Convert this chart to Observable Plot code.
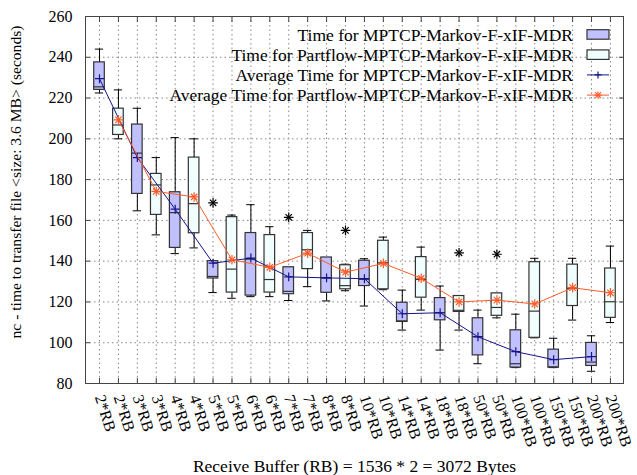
<!DOCTYPE html>
<html><head><meta charset="utf-8">
<script src="https://cdn.jsdelivr.net/npm/d3@7"></script>
<script src="https://cdn.jsdelivr.net/npm/@observablehq/plot@0.6"></script>
<style>body{margin:0;background:#fff} #chart{width:637px;height:475px} #chart svg, #chart svg text{font-family:"Liberation Serif","DejaVu Serif",serif}</style>
</head><body><div id="chart"></div>
<script>
// Receive buffer categories (each has an MPTCP box then a Partflow box)
const buffers = ["2*RB","3*RB","4*RB","5*RB","6*RB","7*RB","8*RB","10*RB","14*RB","18*RB","50*RB","100*RB","150*RB","200*RB"];

// MPTCP-Markov-F-xIF-MDR box statistics (seconds)
const mptcpLow    = [222.5, 164.7, 143.7, 124.6, 122.6, 120.7, 120.5, 118.0, 106.2,  96.4,  89.7,  87.8,  87.8,  86.0];
const mptcpQ1     = [224.0, 173.0, 146.5, 131.5, 123.1, 123.8, 124.5, 127.8, 110.2, 111.0,  93.8,  87.8,  87.8,  88.6];
const mptcpMedian = [225.5, 193.0, 163.8, 132.5, 141.0, 125.2, 131.8, 131.1, 110.7, 114.7, 103.0,  89.7,  88.1,  90.5];
const mptcpQ3     = [237.5, 207.0, 173.8, 140.0, 153.8, 137.0, 141.8, 140.2, 119.6, 121.9, 112.0, 106.1,  96.6,  99.9];
const mptcpHigh   = [244.0, 215.0, 200.6, 140.0, 167.7, 137.0, 141.8, 141.2, 125.8, 127.8, 116.0, 114.0, 102.2, 103.4];
const mptcpMean   = [229.5, 190.8, 165.5, 139.0, 141.5, 132.3, 131.8, 131.4, 114.2, 114.7, 102.9,  95.6,  91.7,  93.2];

// Partflow-MPTCP-Markov-F-xIF-MDR box statistics (seconds)
const partLow     = [200.0, 152.9, 146.5, 121.8, 122.6, 127.5, 125.5, 126.0, 116.0, 106.2, 112.2, 102.4, 111.1, 109.9];
const partQ1      = [201.9, 162.7, 153.7, 124.6, 124.6, 136.1, 126.2, 126.2, 122.1, 115.1, 113.2, 102.4, 118.0, 112.2];
const partMedian  = [206.8, 177.4, 168.2, 136.1, 131.0, 145.6, 128.0, 139.2, 131.1, 115.9, 117.3, 115.5, 126.7, 120.1];
const partQ3      = [214.8, 182.8, 190.8, 161.6, 152.8, 153.8, 138.0, 150.0, 142.0, 122.9, 124.2, 139.5, 138.3, 136.4];
const partHigh    = [224.0, 190.8, 200.0, 162.6, 156.9, 155.1, 138.5, 151.8, 146.9, 122.9, 124.2, 141.4, 141.4, 147.4];
const partMean    = [209.3, 174.2, 171.5, 140.7, 137.0, 143.9, 134.6, 138.9, 131.6, 120.0, 120.9, 119.0, 127.0, 124.5];

// Outliers
const outlierBuffer = ["5*RB", "7*RB", "8*RB", "18*RB", "50*RB"];
const outlierSeries = ["MPTCP", "MPTCP", "Partflow", "Partflow", "Partflow"];
const outlierValue  = [168.6, 161.5, 155.1, 144.1, 143.4];

const yTicks = [80, 100, 120, 140, 160, 180, 200, 220, 240, 260];
const legendLabels = [
  "Time for MPTCP-Markov-F-xIF-MDR",
  "Time for Partflow-MPTCP-Markov-F-xIF-MDR",
  "Average Time for MPTCP-Markov-F-xIF-MDR",
  "Average Time for Partflow-MPTCP-Markov-F-xIF-MDR"
];
const xLabel = "Receive Buffer (RB) = 1536 * 2 = 3072 Bytes";
const yLabel = "nc - time to transfer file <size: 3.6 MB> (seconds)";

// build tables
const seriesOffset = {MPTCP: 1, Partflow: 2};
const mptcpRows = buffers.map((b, k) => ({buffer: b, series: "MPTCP", pos: 2*k + 1,
  low: mptcpLow[k], q1: mptcpQ1[k], median: mptcpMedian[k], q3: mptcpQ3[k], high: mptcpHigh[k], mean: mptcpMean[k]}));
const partRows = buffers.map((b, k) => ({buffer: b, series: "Partflow", pos: 2*k + 2,
  low: partLow[k], q1: partQ1[k], median: partMedian[k], q3: partQ3[k], high: partHigh[k], mean: partMean[k]}));
const rows = mptcpRows.concat(partRows);
const outliers = outlierValue.map((v, i) => ({pos: 2*buffers.indexOf(outlierBuffer[i]) + seriesOffset[outlierSeries[i]], value: v}));
const positions = rows.map(d => d.pos).sort((a, b) => a - b);
const tickLabel = new Map(rows.map(d => [d.pos, d.buffer]));

const HW = 0.28, CW = 0.22;
const blue = "#14148c", orange = "#ff5a28";
const fillM = "#c0c0ff", fillP = "#f0fffd";

const plot = Plot.plot({
  width: 637, height: 475,
  marginLeft: 85, marginRight: 14, marginTop: 16, marginBottom: 92,
  style: {fontSize: "16px", color: "#000", background: "#fff"},
  x: {type: "linear", domain: [0.26, 28.69]},
  y: {domain: [80, 260]},
  marks: [
    Plot.gridY(yTicks, {stroke: "#888", strokeOpacity: 1, strokeDasharray: "1.5,3"}),
    Plot.gridX(positions, {stroke: "#888", strokeOpacity: 1, strokeDasharray: "1.5,3"}),
    // whiskers
    Plot.ruleX(rows, {x: "pos", y1: "q3", y2: "high", stroke: "#000"}),
    Plot.ruleX(rows, {x: "pos", y1: "low", y2: "q1", stroke: "#000"}),
    Plot.ruleY(rows, {y: "high", x1: d => d.pos - CW, x2: d => d.pos + CW, stroke: "#000"}),
    Plot.ruleY(rows, {y: "low", x1: d => d.pos - CW, x2: d => d.pos + CW, stroke: "#000"}),
    // boxes
    Plot.rect(rows, {x1: d => d.pos - HW, x2: d => d.pos + HW, y1: "q1", y2: "q3",
      fill: d => d.series === "MPTCP" ? fillM : fillP, stroke: "#333", strokeWidth: 1.2}),
    Plot.ruleY(rows, {y: "median", x1: d => d.pos - HW, x2: d => d.pos + HW, stroke: "#333", strokeWidth: 1.2}),
    // means
    Plot.line(mptcpRows, {x: "pos", y: "mean", stroke: blue, strokeWidth: 1}),
    Plot.dot(mptcpRows, {x: "pos", y: "mean", symbol: "plus", r: 3, stroke: blue, strokeWidth: 1.2}),
    Plot.line(partRows, {x: "pos", y: "mean", stroke: orange, strokeWidth: 1}),
    Plot.dot(partRows, {x: "pos", y: "mean", symbol: "plus", r: 3.2, stroke: orange, strokeWidth: 1.2}),
    Plot.dot(partRows, {x: "pos", y: "mean", symbol: "times", r: 3, stroke: orange, strokeWidth: 1.2}),
    // outliers
    Plot.dot(outliers, {x: "pos", y: "value", symbol: "plus", r: 3.2, stroke: "#000", strokeWidth: 1.2}),
    Plot.dot(outliers, {x: "pos", y: "value", symbol: "times", r: 3, stroke: "#000", strokeWidth: 1.2}),
    Plot.frame({stroke: "#444"}),
    // inward tick marks
    Plot.axisX(positions, {anchor: "bottom", tickSize: 5, dy: -5, tickFormat: () => "", label: null, stroke: "#444"}),
    Plot.axisX(positions, {anchor: "top", tickSize: 5, dy: 5, tickFormat: () => "", label: null, stroke: "#444"}),
    Plot.axisY(yTicks, {anchor: "left", tickSize: 5, dx: 5, tickFormat: () => "", label: null, stroke: "#444"}),
    Plot.axisY(yTicks, {anchor: "right", tickSize: 5, dx: -5, tickFormat: () => "", label: null, stroke: "#444"}),
    // tick labels
    Plot.axisX(positions, {anchor: "bottom", tickSize: 0, tickPadding: 12, tickRotate: 72,
      tickFormat: i => tickLabel.get(i), fontSize: 16, label: null}),
    Plot.axisY(yTicks, {anchor: "left", tickSize: 0, tickPadding: 13, fontSize: 16, label: null}),
    // axis titles
    Plot.text([xLabel], {text: d => d, frameAnchor: "bottom", dy: 83, lineAnchor: "middle", textAnchor: "middle", fontSize: 17.5}),
    Plot.text([yLabel], {text: d => d, frameAnchor: "left", dx: -70, dy: -18, rotate: -90, lineAnchor: "middle", textAnchor: "middle", fontSize: 15.6})
  ]
});
document.getElementById("chart").appendChild(plot);

// legend (inside top-right of the frame)
const svg = d3.select(plot);
const lg = svg.append("g").attr("font-size", 17.5);
legendLabels.forEach((t, i) => {
  const y = 34.5 + i * 20.2;
  lg.append("text").attr("x", 573).attr("y", y).attr("dy", "0.35em").attr("text-anchor", "end").attr("fill", "#000").text(t);
  if (i < 2) {
    lg.append("rect").attr("x", 587).attr("y", y - 4.8).attr("width", 22).attr("height", 9.5)
      .attr("fill", i === 0 ? fillM : fillP).attr("stroke", "#333").attr("stroke-width", 1.2);
  } else {
    const c = i === 2 ? blue : orange;
    lg.append("line").attr("x1", 587).attr("x2", 609).attr("y1", y).attr("y2", y).attr("stroke", c);
    lg.append("path").attr("d", `M594.5,${y}h7M598,${y-3.5}v7`).attr("stroke", c).attr("stroke-width", 1.2);
    if (i === 3) lg.append("path").attr("d", `M595,${y-3}l6,6M595,${y+3}l6,-6`).attr("stroke", c).attr("stroke-width", 1.2);
  }
});
</script>
</body></html>
